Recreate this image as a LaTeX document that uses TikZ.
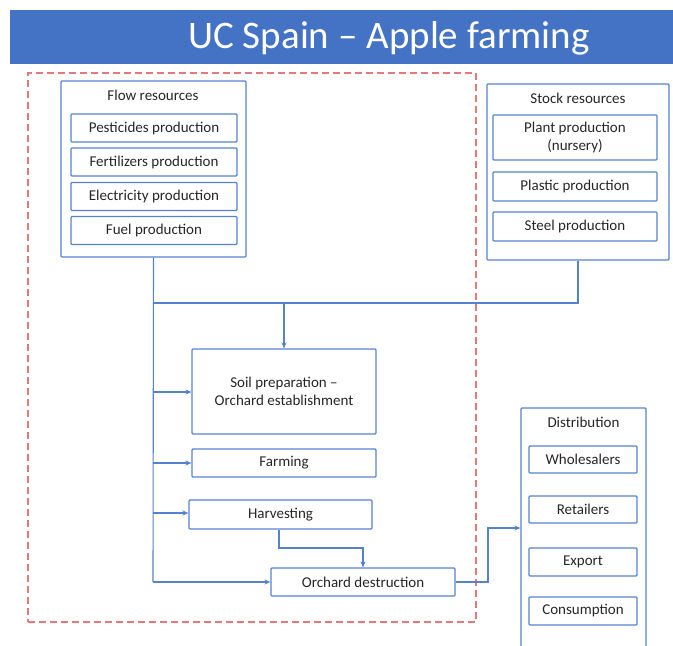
\documentclass[tikz,border=0pt]{standalone}
\usepackage{fontspec}
\setmainfont{Carlito}
\usetikzlibrary{arrows.meta}
\definecolor{barblue}{HTML}{4472C4}
\definecolor{lineblue}{HTML}{5582D0}
\definecolor{dashred}{HTML}{E87878}
\definecolor{txt}{HTML}{262626}
\tikzset{
  box/.style={draw=lineblue, line width=1.1pt, rounded corners=1pt, inner sep=0pt,
    text=txt, font=\fontsize{15}{18}\selectfont, align=center},
  lbl/.style={text=txt, font=\fontsize{15}{18}\selectfont, inner sep=0pt},
  conn/.style={draw=lineblue, line width=1.1pt},
  arr/.style={conn, -{Stealth[length=6pt,width=5pt]}},
}
\begin{document}
\begin{tikzpicture}[x=1pt,y=-1pt]
\useasboundingbox (0,0) rectangle (673,646);
\clip (0,0) rectangle (673,646);
% heading bar
\node[fill=barblue, minimum width=663pt, minimum height=54pt, inner sep=0pt] (bar) at (341.5,37) {};
\node[text=white, font=\fontsize{39}{42}\selectfont, inner sep=0pt] (title) at (389,38) {UC Spain – Apple farming};
% system boundary
\node[draw=dashred, line width=1.6pt, dash pattern=on 7pt off 4pt, minimum width=448pt, minimum height=549pt, inner sep=0pt] (boundary) at (252,347.5) {};
% flow resources
\node[box, minimum width=185pt, minimum height=176pt] (flow) at (153.5,169) {};
\node[lbl] (flowt) at (153,95) {Flow resources};
\node[box, minimum width=166pt, minimum height=28pt] (pest) at (154,128) {Pesticides production};
\node[box, minimum width=166pt, minimum height=28pt] (fert) at (154,162) {Fertilizers production};
\node[box, minimum width=166pt, minimum height=28pt] (elec) at (154,196.5) {Electricity production};
\node[box, minimum width=166pt, minimum height=28pt] (fuel) at (154,230.5) {Fuel production};
% stock resources
\node[box, minimum width=182pt, minimum height=176pt] (stock) at (578,172) {};
\node[lbl] (stockt) at (578,98) {Stock resources};
\node[box, minimum width=164pt, minimum height=45pt] (plant) at (575,137.5) {Plant production\\(nursery)};
\node[box, minimum width=164pt, minimum height=29pt] (plast) at (575,186.5) {Plastic production};
\node[box, minimum width=164pt, minimum height=29pt] (steel) at (575,226.5) {Steel production};
% orchard stages
\node[box, minimum width=184pt, minimum height=85pt] (soil) at (284,391.5) {Soil preparation –\\Orchard establishment};
\node[box, minimum width=184pt, minimum height=28pt] (farm) at (284,463) {Farming};
\node[box, minimum width=183pt, minimum height=29pt] (harv) at (280.5,514.5) {Harvesting};
\node[box, minimum width=184pt, minimum height=28pt] (destr) at (363,582) {Orchard destruction};
% distribution
\node[box, minimum width=125pt, minimum height=260pt] (dist) at (583.5,538) {};
\node[lbl] (distt) at (583.5,422) {Distribution};
\node[box, minimum width=108pt, minimum height=27pt] (whole) at (583,459.5) {Wholesalers};
\node[box, minimum width=108pt, minimum height=27pt] (retail) at (583,509.5) {Retailers};
\node[box, minimum width=108pt, minimum height=28pt] (export) at (583,562) {Export};
\node[box, minimum width=108pt, minimum height=28pt] (consum) at (583,611) {Consumption};
% connectors
\coordinate (j1) at (153,303);
\coordinate (j2) at (284,303);
\coordinate (t1) at (153,392);
\coordinate (t2) at (153,463);
\coordinate (t3) at (153,513);
\coordinate (t4) at (153,582);
\coordinate (h1) at (279,548);
\coordinate (d1) at (488,528);
\draw[conn] (flow.south) -- (t4);
\draw[conn] (stock.south) |- (j1);
\draw[arr] (j2) -- (soil.north);
\draw[arr] (t1) -- (t1 -| soil.west);
\draw[arr] (t2) -- (t2 -| farm.west);
\draw[arr] (t3) -- (t3 -| harv.west);
\draw[arr] (t4) -- (destr.west);
\draw[arr] (h1 |- harv.south) -- (h1) -| (destr.north);
\draw[arr] (destr.east) -| (d1) -- (d1 -| dist.west);
\end{tikzpicture}
\end{document}
